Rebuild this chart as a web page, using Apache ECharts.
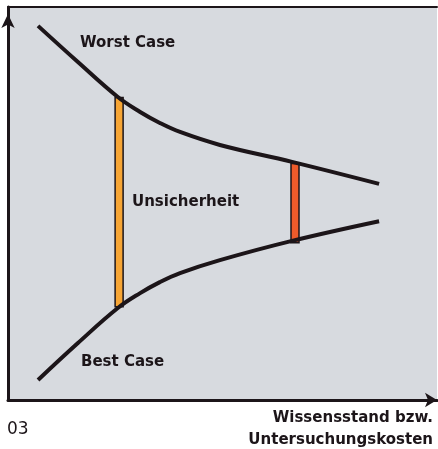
<!DOCTYPE html>
<html>
<head>
<meta charset="utf-8">
<title>Unsicherheit</title>
<script src="https://cdn.jsdelivr.net/npm/echarts@6/dist/echarts.min.js"></script>
<style>
  html, body { margin: 0; padding: 0; background: #fff; }
  #chart { width: 438px; height: 449px; }
</style>
</head>
<body>
<div id="chart"></div>
<script>
// Wissensstand (x, 0..100)
var knowledge = [7.0, 16.3, 25.6, 30.8, 35.4, 40.1, 49.4, 66.2, 86.5]
// Kosten-Schätzung (y, 0..100)
var worstCase = [95.2, 86.0, 77.1, 73.3, 70.5, 68.2, 64.9, 60.6, 55.0]
var bestCase = [5.1, 14.5, 23.4, 27.2, 30.0, 32.3, 35.6, 40.5, 45.5]

// Unsicherheits-Balken: Position, unten, oben
var rangeX = [25.9, 66.9]
var rangeLow = [23.7, 40.0]
var rangeHigh = [77.0, 60.2]
var rangeColors = ['#f7a534', '#ee5b2b']

var ink = '#1c1519'
var labelFont = 'bold 15px "DejaVu Sans", sans-serif'

function pairs(xs, ys) {
  return xs.map(function(x, i) {
    return [x, ys[i]]
  })
}

function renderRange(params, api) {
  var top = api.coord([api.value(0), api.value(2)])
  var bottom = api.coord([api.value(0), api.value(1)])
  var w = 8
  return {
    type: 'rect',
    shape: { x: top[0] - w / 2, y: top[1], width: w, height: bottom[1] - top[1] },
    style: { fill: rangeColors[params.dataIndex], stroke: ink, lineWidth: 1.5 }
  }
}

var chart = echarts.init(document.getElementById('chart'))

chart.setOption({
  animation: false,
  grid: {
    left: 8,
    right: 1,
    top: 7,
    bottom: 49,
    show: true,
    backgroundColor: '#d7dadf',
    borderWidth: 0
  },
  xAxis: [
    {
      type: 'value',
      min: 0,
      max: 100,
      axisLine: {
        show: true,
        symbol: ['none', 'arrow'],
        symbolSize: [11, 12],
        lineStyle: { color: ink, width: 3 }
      },
      axisTick: { show: false },
      axisLabel: { show: false },
      splitLine: { show: false }
    },
    {
      type: 'value',
      position: 'top',
      min: 0,
      max: 100,
      axisLine: { show: true, lineStyle: { color: ink, width: 2 } },
      axisTick: { show: false },
      axisLabel: { show: false },
      splitLine: { show: false }
    }
  ],
  yAxis: {
    type: 'value',
    min: 0,
    max: 100,
    axisLine: {
      show: true,
      symbol: ['none', 'arrow'],
      symbolSize: [10, 14],
      symbolOffset: [0, -7],
      lineStyle: { color: ink, width: 3 }
    },
    axisTick: { show: false },
    axisLabel: { show: false },
    splitLine: { show: false }
  },
  series: [
    {
      type: 'custom',
      renderItem: renderRange,
      data: rangeX.map(function(x, i) {
        return [x, rangeLow[i], rangeHigh[i]]
      }),
      z: 1
    },
    {
      name: 'Worst Case',
      type: 'line',
      smooth: 0.4,
      symbol: 'none',
      data: pairs(knowledge, worstCase),
      lineStyle: { color: ink, width: 4 },
      z: 2
    },
    {
      name: 'Best Case',
      type: 'line',
      smooth: 0.4,
      symbol: 'none',
      data: pairs(knowledge, bestCase),
      lineStyle: { color: ink, width: 4 },
      z: 2
    }
  ],
  graphic: [
    { type: 'text', x: 80, y: 43, style: { text: 'Worst Case', font: labelFont, fill: ink, textVerticalAlign: 'middle' } },
    { type: 'text', x: 132, y: 202, style: { text: 'Unsicherheit', font: labelFont, fill: ink, textVerticalAlign: 'middle' } },
    { type: 'text', x: 81, y: 362, style: { text: 'Best Case', font: labelFont, fill: ink, textVerticalAlign: 'middle' } },
    { type: 'text', x: 7, y: 430, style: { text: '03', font: '17px "DejaVu Sans", sans-serif', fill: ink, textVerticalAlign: 'middle' } },
    { type: 'text', x: 433, y: 418, style: { text: 'Wissensstand bzw.', font: labelFont, fill: ink, textAlign: 'right', textVerticalAlign: 'middle' } },
    { type: 'text', x: 433, y: 440, style: { text: 'Untersuchungskosten', font: labelFont, fill: ink, textAlign: 'right', textVerticalAlign: 'middle' } }
  ]
})
</script>
</body>
</html>
